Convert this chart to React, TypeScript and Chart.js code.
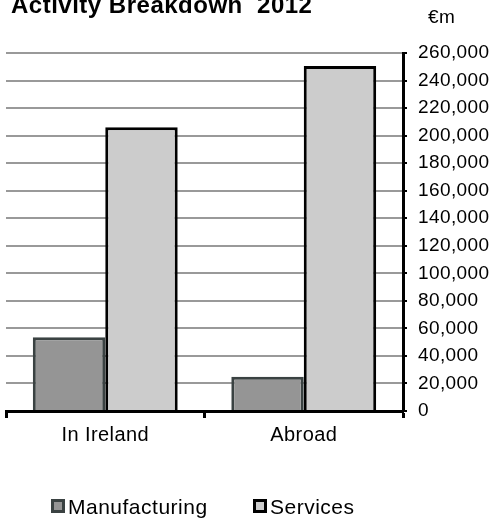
import React, { useEffect, useRef } from "react";
import { Chart, registerables } from "chart.js";

Chart.register(...registerables);

const titleText = "Activity Breakdown  2012";
const unitText = "€m";
const categories = ["In Ireland", "Abroad"];
const seriesNames = ["Manufacturing", "Services"];
const manufacturing = [53500, 24900];
const services = [206000, 250500];
const yMin = 0;
const yMax = 260000;
const yStep = 20000;

const FONT = "'Liberation Sans', Arial, Helvetica, sans-serif";

const decorPlugin = {
  id: "decor",
  beforeDraw(chart: any) {
    (chart.ctx as any).letterSpacing = "0.4px";
  },
  afterDraw(chart: any) {
    const ctx = chart.ctx;
    ctx.save();
    ctx.fillStyle = "#000";
    ctx.textBaseline = "alphabetic";
    ctx.textAlign = "left";
    (ctx as any).letterSpacing = "0.5px";
    ctx.font = `bold 24px ${FONT}`;
    ctx.fillText(titleText, 11, 13);
    ctx.font = `19px ${FONT}`;
    ctx.fillText(unitText, 428, 23);

    // legend
    const xs = [51, 253];
    chart.data.datasets.forEach((ds: any, i: number) => {
      const x = xs[i];
      const y = 499;
      const s = 14;
      ctx.fillStyle = ds.borderColor;
      ctx.fillRect(x, y, s, s);
      ctx.fillStyle = ds.backgroundColor;
      ctx.fillRect(x + 3, y + 3, s - 6, s - 6);
      ctx.fillStyle = "#000";
      ctx.font = `21px ${FONT}`;
      ctx.fillText(ds.label, x + 17, 514);
    });
    ctx.restore();
  },
};

export default function App() {
  const ref = useRef<HTMLCanvasElement | null>(null);

  useEffect(() => {
    if (!ref.current) return;
    const chart = new Chart(ref.current, {
      type: "bar",
      data: {
        labels: categories,
        datasets: [
          {
            label: seriesNames[0],
            data: manufacturing,
            backgroundColor: "#959595",
            borderColor: "#3a4242",
            borderWidth: 3,
            barPercentage: 1,
            categoryPercentage: 0.73,
          },
          {
            label: seriesNames[1],
            data: services,
            backgroundColor: "#cccccc",
            borderColor: "#000000",
            borderWidth: 3,
            barPercentage: 1,
            categoryPercentage: 0.73,
          },
        ],
      },
      options: {
        responsive: false,
        animation: false,
        events: [],
        layout: { padding: { left: 6, top: 53, right: 0, bottom: 0 } },
        plugins: {
          legend: { display: false },
          title: { display: false },
          tooltip: { enabled: false },
        },
        scales: {
          x: {
            position: "bottom",
            afterFit: (scale: any) => {
              scale.height = 109;
            },
            grid: {
              display: true,
              drawOnChartArea: false,
              drawTicks: true,
              offset: true,
              tickLength: 7,
              tickWidth: 3,
              tickColor: "#000",
            },
            border: { display: true, color: "#000", width: 3 },
            ticks: {
              color: "#000",
              padding: 5,
              font: { family: FONT, size: 20 },
              maxRotation: 0,
            },
          },
          y: {
            position: "right",
            min: yMin,
            max: yMax,
            afterFit: (scale: any) => {
              scale.width = 94;
            },
            grid: {
              color: "#999999",
              lineWidth: 2,
              drawTicks: true,
              tickLength: 4,
              tickWidth: 2,
              tickColor: "#000",
            },
            border: { display: true, color: "#000", width: 3 },
            ticks: {
              stepSize: yStep,
              color: "#000",
              padding: 11,
              font: { family: FONT, size: 19 },
              callback: (v: any) => Number(v).toLocaleString("en-US"),
            },
          },
        },
      },
      plugins: [decorPlugin],
    });
    return () => chart.destroy();
  }, []);

  return (
    <div style={{ position: "absolute", left: 0, top: 0, width: 497, height: 520, background: "#fff" }}>
      <canvas ref={ref} width={497} height={520} style={{ display: "block" }} />
    </div>
  );
}
